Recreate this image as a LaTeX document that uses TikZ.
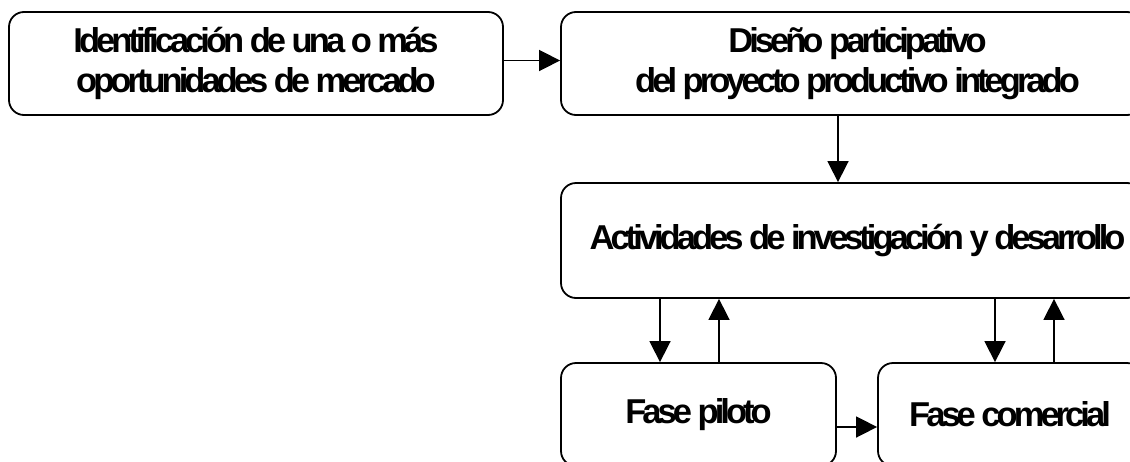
\documentclass[tikz,border=0pt]{standalone}
\usepackage{fontspec}
\setmainfont{Liberation Sans}
\newfontfamily\boxfont{Liberation Sans}[LetterSpace=-11.5]
\usetikzlibrary{arrows.meta}
\begin{document}
\begin{tikzpicture}[x=1pt,y=-1pt,
  box/.style={draw, line width=1.8pt, rounded corners=15pt, align=center, inner sep=0pt,
    font=\boxfont\bfseries\fontsize{34.5}{40}\selectfont},
  conn/.style={line width=1.6pt, -{Triangle[length=21pt,width=21pt]}}]
\useasboundingbox (0,0) rectangle (1130,461);
\clip (0,0) rectangle (1130,461);
\node[box, minimum width=494pt, minimum height=103pt] (ident) at (256,63.5)
  {Identificación de una o más\\oportunidades de mercado};
\node[box, minimum width=581pt, minimum height=103pt] (diseno) at (851.5,63.5)
  {\hspace*{12pt}Diseño participativo\\\hspace*{12pt}del proyecto productivo integrado};
\node[box, minimum width=581pt, minimum height=115pt] (activ) at (851.5,240.5)
  {\hspace*{12pt}Actividades de investigación y desarrollo};
\node[box, minimum width=275pt, minimum height=103pt] (piloto) at (698.5,414.5)
  {Fase piloto};
\node[box, minimum width=264pt, minimum height=103pt] (comercial) at (1010,414.5)
  {Fase comercial};
\draw[conn] ([yshift=3pt]ident.east) -- ([yshift=3pt]diseno.west);
\draw[conn] ([xshift=-13.5pt]diseno.south) -- ([xshift=-13.5pt]activ.north);
\draw[conn] ([xshift=-38.5pt]piloto.north |- activ.south) -- ([xshift=-38.5pt]piloto.north);
\draw[conn] ([xshift=20.5pt]piloto.north) -- ([xshift=20.5pt]piloto.north |- activ.south);
\draw[conn] ([xshift=-15pt]comercial.north |- activ.south) -- ([xshift=-15pt]comercial.north);
\draw[conn] ([xshift=44pt]comercial.north) -- ([xshift=44pt]comercial.north |- activ.south);
\draw[conn] ([yshift=-12.5pt]piloto.east) -- ([yshift=-12.5pt]comercial.west);
\end{tikzpicture}
\end{document}
